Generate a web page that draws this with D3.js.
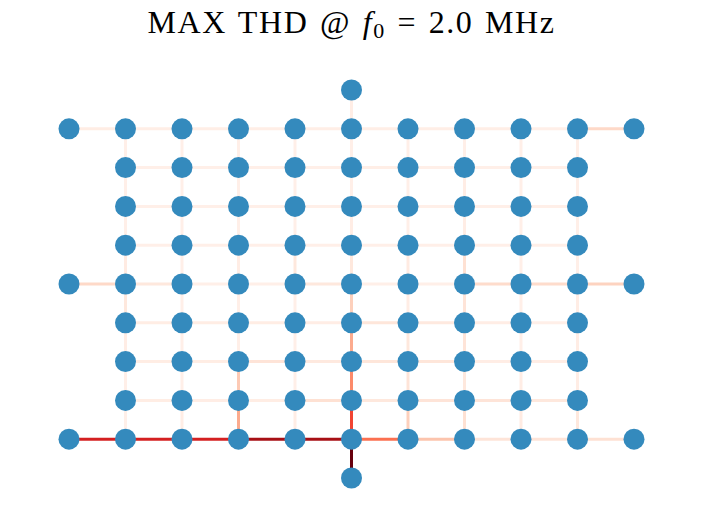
<!DOCTYPE html>
<html>
<head>
<meta charset="utf-8">
<script src="https://cdn.jsdelivr.net/npm/d3@7"></script>
<style>
  html, body { margin: 0; padding: 0; background: #fff; }
  svg { display: block; }
</style>
</head>
<body>
<svg id="chart" width="703" height="528"></svg>
<script>
// ---- data ----
// grid: columns 1..9, rows 1..9 (row 0 = top extra, row 10 = bottom extra)
const gridCols = [1, 2, 3, 4, 5, 6, 7, 8, 9];
const gridRows = [1, 2, 3, 4, 5, 6, 7, 8, 9];
// extra terminal nodes [col, row]
const extraNodes = [[0, 1], [10, 1], [0, 5], [10, 5], [0, 9], [10, 9], [5, 0], [5, 10]];

// horizontal edge values: rows 1..9, each (c,r)-(c+1,r) for c=1..8
const hEdgeValues = [
  [0.04, 0.04, 0.04, 0.04, 0.04, 0.04, 0.04, 0.035],
  [0.035, 0.035, 0.035, 0.035, 0.04, 0.035, 0.035, 0.035],
  [0.035, 0.035, 0.035, 0.035, 0.035, 0.035, 0.035, 0.035],
  [0.035, 0.035, 0.035, 0.035, 0.035, 0.035, 0.035, 0.035],
  [0.08, 0.035, 0.035, 0.08, 0.035, 0.035, 0.14, 0.14],
  [0.05, 0.05, 0.05, 0.045, 0.09, 0.07, 0.045, 0.035],
  [0.05, 0.05, 0.10, 0.07, 0.09, 0.09, 0.045, 0.045],
  [0.05, 0.045, 0.05, 0.12, 0.08, 0.10, 0.10, 0.08],
  [0.72, 0.72, 0.87, 0.87, 0.48, 0.22, 0.10, 0.10]
];
// vertical edge values: cols 1..9, each (c,r)-(c,r+1) for r=1..8
const vEdgeValues = [
  [0.035, 0.035, 0.035, 0.06, 0.08, 0.045, 0.035, 0.035],
  [0.035, 0.035, 0.035, 0.035, 0.035, 0.035, 0.035, 0.045],
  [0.035, 0.035, 0.035, 0.045, 0.035, 0.035, 0.20, 0.30],
  [0.035, 0.035, 0.035, 0.08, 0.035, 0.035, 0.035, 0.045],
  [0.035, 0.035, 0.045, 0.08, 0.18, 0.30, 0.40, 0.60],
  [0.035, 0.035, 0.035, 0.06, 0.045, 0.08, 0.10, 0.18],
  [0.035, 0.045, 0.045, 0.12, 0.10, 0.10, 0.08, 0.12],
  [0.035, 0.035, 0.035, 0.035, 0.035, 0.035, 0.045, 0.06],
  [0.035, 0.035, 0.035, 0.035, 0.045, 0.045, 0.045, 0.08]
];
// edges from terminals: [col1, row1, col2, row2, value]
const extraEdges = [
  [0, 1, 1, 1, 0.05], [9, 1, 10, 1, 0.15],
  [0, 5, 1, 5, 0.15], [9, 5, 10, 5, 0.17],
  [0, 9, 1, 9, 0.72], [9, 9, 10, 9, 0.12],
  [5, 0, 5, 1, 0.045], [5, 9, 5, 10, 1.0]
];

const titleParts = ["MAX THD @ ", "f", "0", " = 2.0 MHz"];

// ---- build ----
const svg = d3.select("#chart");
const x = d3.scaleLinear().domain([0, 10]).range([69, 634]);
const y = d3.scaleLinear().domain([0, 10]).range([90, 478]);
const redsStops = ["#fff5f0", "#fee0d2", "#fcbba1", "#fc9272", "#fb6a4a", "#ef3b2c", "#cb181d", "#a50f15", "#67000d"];
const color = d3.scaleLinear().domain(d3.range(9).map(i => i / 8)).range(redsStops).interpolate(d3.interpolateRgb);

const nodes = [];
gridRows.forEach(r => gridCols.forEach(c => nodes.push([c, r])));
extraNodes.forEach(n => nodes.push(n));

const edges = [];
hEdgeValues.forEach((row, i) => row.forEach((v, j) => {
  const r = gridRows[i], c = gridCols[j];
  edges.push([c, r, c + 1, r, v]);
}));
vEdgeValues.forEach((col, i) => col.forEach((v, j) => {
  const c = gridCols[i], r = gridRows[j];
  edges.push([c, r, c, r + 1, v]);
}));
extraEdges.forEach(e => edges.push(e));
edges.sort((a, b) => a[4] - b[4]);

svg.append("g").selectAll("line").data(edges).join("line")
  .attr("x1", d => x(d[0])).attr("y1", d => y(d[1]))
  .attr("x2", d => x(d[2])).attr("y2", d => y(d[3]))
  .attr("stroke", d => color(d[4]))
  .attr("stroke-width", 3);

svg.append("g").selectAll("circle").data(nodes).join("circle")
  .attr("cx", d => x(d[0])).attr("cy", d => y(d[1]))
  .attr("r", 10.5)
  .attr("fill", "#348ABD");

const title = svg.append("text")
  .attr("x", 351.5).attr("y", 33)
  .attr("text-anchor", "middle")
  .attr("font-family", "'Liberation Serif', 'DejaVu Serif', serif")
  .attr("font-size", 32)
  .attr("letter-spacing", 1.6)
  .attr("word-spacing", 2)
  .attr("fill", "#000");
title.append("tspan").text(titleParts[0]);
title.append("tspan").attr("font-style", "italic").text(titleParts[1]);
title.append("tspan").attr("font-size", 22).attr("dy", 5).text(titleParts[2]);
title.append("tspan").attr("dy", -5).text(titleParts[3]);
</script>
</body>
</html>
